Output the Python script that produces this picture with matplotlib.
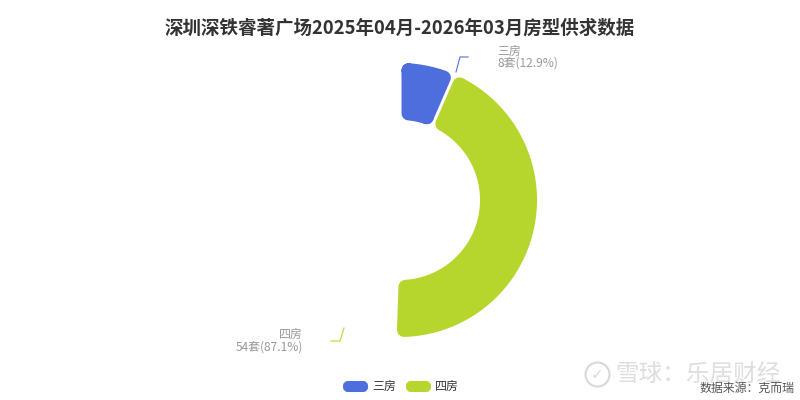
import numpy as np
import matplotlib
matplotlib.use('Agg')
import matplotlib.pyplot as plt
from matplotlib.patches import Polygon, FancyBboxPatch, Circle

plt.rcParams['font.family'] = ['Noto Sans CJK SC', 'DejaVu Sans']

# data
title = '深圳深铁睿著广场2025年04月-2026年03月房型供求数据'
categories = ['三房', '四房']
counts = [8, 54]
colors = ['#4E6EDE', '#B6D62E']
source = '数据来源：克而瑞'
watermark = '雪球：乐居财经'

# geometry (pixels, y downward)
cx, cy = 400, 200
r_out, r_in = 137, 80
span = 182.0          # degrees, clockwise from top
corner = 7            # rounded corner radius
half_gap = 1.5


def sector_path(a0, a1):
    # polygon shrunk by the corner radius, stroked later with round joins
    d = corner + half_gap
    ro = r_out - corner
    ri = r_in + corner

    def edge_point(phi, t, side):
        u = np.array([np.sin(phi), -np.cos(phi)])
        n = np.array([np.cos(phi), np.sin(phi)]) * side
        return np.array([cx, cy]) + t * u + d * n

    t_out = np.sqrt(ro ** 2 - d ** 2)
    t_in = np.sqrt(ri ** 2 - d ** 2)
    p0o = edge_point(a0, t_out, 1)
    p1o = edge_point(a1, t_out, -1)
    p0i = edge_point(a0, t_in, 1)
    p1i = edge_point(a1, t_in, -1)

    def ang(p):
        return np.arctan2(p[0] - cx, -(p[1] - cy))

    def arc(r, s, e, n=80):
        if e < s:
            e += 2 * np.pi
        ph = np.linspace(s, e, n)
        return np.column_stack([cx + r * np.sin(ph), cy - r * np.cos(ph)])

    pts = [p0i, p0o]
    pts.extend(arc(ro, ang(p0o), ang(p1o)))
    pts.append(p1i)
    pts.extend(arc(ri, ang(p0i), ang(p1i))[::-1])
    return np.array(pts)


fig = plt.figure(figsize=(8, 4), dpi=100)
ax = fig.add_axes([0, 0, 1, 1])
ax.set_xlim(0, 800)
ax.set_ylim(400, 0)
ax.axis('off')

total = sum(counts)
start = 0.0
px_to_pt = 72 / 100
for c, col in zip(counts, colors):
    a0 = np.radians(start)
    a1 = np.radians(start + span * c / total)
    poly = Polygon(sector_path(a0, a1), closed=True, facecolor=col, edgecolor=col,
                   linewidth=2 * corner * px_to_pt, joinstyle='round')
    ax.add_patch(poly)
    start += span * c / total

# labels
pct = [c / total * 100 for c in counts]
ax.plot([456, 460, 468], [72, 57, 57], color=colors[0], lw=0.8)
ax.text(497, 51, categories[0], fontsize=8.6, color='#999999', va='center', ha='left')
ax.text(497, 63, f'{counts[0]}套({pct[0]:.1f}%)', fontsize=8.6, color='#999999', va='center', ha='left')

ax.plot([344, 340, 331], [328, 341, 341], color=colors[1], lw=0.8)
ax.text(303, 334, categories[1], fontsize=8.6, color='#999999', va='center', ha='right')
ax.text(303, 347, f'{counts[1]}套({pct[1]:.1f}%)', fontsize=8.6, color='#999999', va='center', ha='right')

# title
ax.text(400, 28, title, fontsize=13.3, fontweight='bold', color='#333333', ha='center', va='center')

# legend
for x0, lab, col in zip([343, 406], categories, colors):
    ax.add_patch(FancyBboxPatch((x0 + 2, 383), 21, 7, boxstyle='round,pad=0,rounding_size=3',
                                facecolor=col, edgecolor=col, lw=2 * px_to_pt * 2))
    ax.text(x0 + 29, 386.5, lab, fontsize=8.6, color='#333333', va='center', ha='left')

# watermark
ax.add_patch(Circle((597.5, 374.5), 12, fill=False, edgecolor='#d9d9d9', lw=1.5))
ax.text(597.5, 375, '✓', fontsize=11, color='#d9d9d9', ha='center', va='center', family=['DejaVu Sans'])
ax.text(615, 374, watermark, fontsize=17, color='#dedede', ha='left', va='center')

ax.text(794, 388, source, fontsize=8.6, color='#555555', ha='right', va='center')

fig.savefig('out.png', dpi=100)
